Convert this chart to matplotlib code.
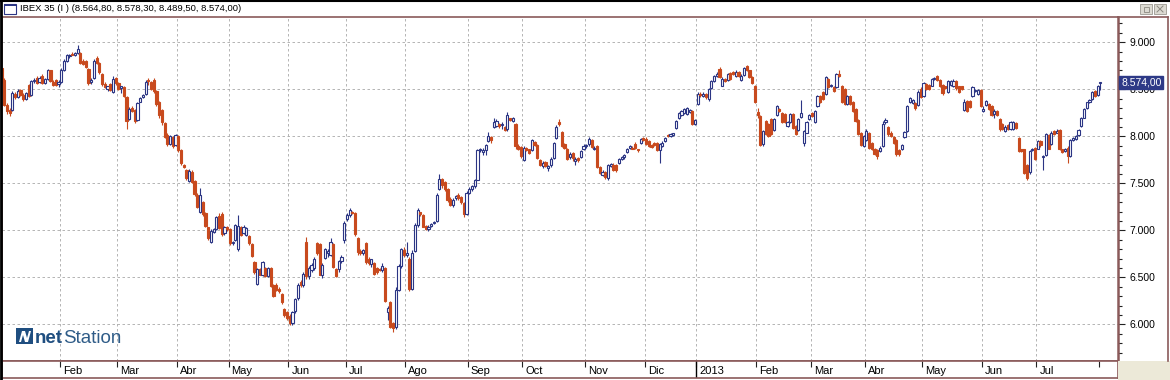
import matplotlib
matplotlib.use("Agg")
import matplotlib.pyplot as plt
import matplotlib.transforms as mtransforms
from matplotlib.patches import Rectangle, Polygon
from matplotlib.lines import Line2D
from matplotlib.ticker import MultipleLocator, FuncFormatter

plt.rcParams['font.family'] = ['Liberation Sans', 'DejaVu Sans']

# daily candles (open, high, low, close), one list per month
jan12 = [(8730, 8760, 8570, 8580), (8600, 8620, 8320, 8330), (8330, 8350, 8240, 8270), (8280, 8300, 8220, 8250),
         (8280, 8480, 8270, 8460), (8450, 8470, 8400, 8420), (8420, 8500, 8410, 8480), (8490, 8500, 8430, 8440),
         (8440, 8460, 8380, 8400), (8400, 8470, 8390, 8460), (8550, 8560, 8420, 8430), (8440, 8600, 8430, 8590),
         (8590, 8620, 8570, 8600), (8620, 8640, 8560, 8570), (8580, 8640, 8570, 8620), (8640, 8660, 8560, 8570),
         (8570, 8620, 8560, 8610), (8610, 8720, 8600, 8700), (8700, 8710, 8580, 8590), (8580, 8600, 8530, 8550),
         (8600, 8610, 8530, 8550), (8560, 8600, 8520, 8580)]
feb12 = [(8580, 8730, 8570, 8700), (8700, 8820, 8690, 8800), (8800, 8880, 8790, 8860), (8850, 8880, 8830, 8870),
         (8880, 8900, 8860, 8870), (8860, 8900, 8850, 8890), (8890, 8970, 8880, 8930), (8890, 8900, 8770, 8780),
         (8800, 8820, 8760, 8770), (8800, 8810, 8730, 8740), (8720, 8730, 8550, 8570), (8580, 8620, 8560, 8600),
         (8620, 8820, 8610, 8800), (8830, 8850, 8770, 8780), (8780, 8790, 8660, 8680), (8660, 8670, 8540, 8560),
         (8560, 8580, 8510, 8520), (8500, 8540, 8480, 8530), (8560, 8570, 8480, 8490), (8470, 8640, 8460, 8610),
         (8620, 8630, 8550, 8570)]
mar12 = [(8570, 8580, 8490, 8500), (8510, 8540, 8460, 8530), (8520, 8530, 8420, 8430), (8420, 8430, 8080, 8160),
         (8180, 8310, 8170, 8290), (8300, 8320, 8260, 8270), (8280, 8290, 8140, 8160), (8170, 8360, 8160, 8350),
         (8370, 8420, 8360, 8410), (8420, 8450, 8410, 8440), (8450, 8600, 8440, 8580), (8600, 8620, 8550, 8590),
         (8580, 8590, 8490, 8500), (8600, 8620, 8460, 8480), (8480, 8490, 8320, 8340), (8370, 8380, 8200, 8230),
         (8280, 8290, 8120, 8150), (8140, 8150, 7980, 7990), (8010, 8030, 7900, 7920), (7920, 8010, 7910, 8000),
         (7990, 8000, 7880, 7900), (7910, 8020, 7900, 8010)]
apr12 = [(8000, 8010, 7830, 7850), (7850, 7860, 7700, 7720), (7700, 7710, 7660, 7670), (7640, 7650, 7540, 7560),
         (7520, 7650, 7510, 7630), (7620, 7640, 7500, 7510), (7520, 7530, 7370, 7390), (7380, 7400, 7240, 7250),
         (7190, 7450, 7180, 7380), (7300, 7310, 7150, 7170), (7180, 7190, 7030, 7050), (7030, 7040, 6900, 6920),
         (6880, 7010, 6870, 6990), (6980, 7020, 6970, 7010), (7010, 7150, 7000, 7140), (7150, 7180, 7010, 7020),
         (7170, 7190, 6940, 6960), (6970, 7050, 6950, 7040), (7040, 7050, 6990, 7010)]
may12 = [(7010, 7020, 6840, 6860), (6860, 6890, 6840, 6880), (6900, 7070, 6890, 7060), (6800, 7160, 6780, 7050),
         (7040, 7050, 6940, 6950), (6970, 7060, 6960, 7040), (6950, 7040, 6940, 7020), (6940, 6950, 6840, 6860),
         (6850, 6860, 6720, 6730), (6660, 6670, 6540, 6560), (6430, 6600, 6420, 6590), (6590, 6600, 6520, 6530),
         (6520, 6670, 6510, 6660), (6600, 6610, 6500, 6510), (6510, 6610, 6500, 6600), (6600, 6610, 6400, 6410),
         (6420, 6430, 6290, 6300), (6420, 6440, 6350, 6370), (6380, 6400, 6330, 6350), (6320, 6330, 6220, 6240),
         (6160, 6170, 6080, 6100), (6130, 6140, 6050, 6070)]
jun12 = [(6090, 6110, 5990, 6010), (6010, 6140, 5990, 6130), (6140, 6280, 6120, 6270), (6280, 6440, 6260, 6420),
         (6450, 6470, 6400, 6420), (6420, 6560, 6400, 6540), (6880, 6930, 6480, 6510), (6510, 6620, 6480, 6600),
         (6580, 6650, 6560, 6630), (6600, 6720, 6580, 6700), (6860, 6880, 6740, 6760), (6850, 6870, 6520, 6530),
         (6520, 6650, 6490, 6630), (6710, 6810, 6700, 6800), (6760, 6800, 6720, 6780), (6740, 6920, 6730, 6880),
         (6850, 6860, 6600, 6610), (6590, 6600, 6500, 6510), (6590, 6680, 6560, 6670), (6670, 6740, 6650, 6720),
         (6900, 7100, 6870, 7080)]
jul12 = [(7120, 7180, 7100, 7160), (7160, 7240, 7140, 7220), (7200, 7210, 7170, 7180), (7180, 7190, 6940, 6960),
         (6920, 6930, 6740, 6770), (6780, 6800, 6740, 6760), (6760, 6800, 6740, 6790), (6860, 6880, 6640, 6660),
         (6700, 6720, 6630, 6650), (6640, 6700, 6610, 6690), (6650, 6660, 6520, 6540), (6600, 6610, 6540, 6560),
         (6590, 6600, 6570, 6580), (6580, 6650, 6560, 6620), (6600, 6610, 6240, 6250), (6130, 6200, 6050, 6170),
         (6240, 6250, 5960, 5970), (6010, 6030, 5920, 5960), (5970, 6400, 5950, 6370), (6370, 6640, 6350, 6620),
         (6620, 6810, 6600, 6800), (6790, 6820, 6720, 6740)]
aug12 = [(6740, 6880, 6720, 6760), (6700, 6720, 6350, 6380), (6380, 6790, 6360, 6760), (6780, 7080, 6770, 7060),
         (7060, 7240, 7040, 7220), (7190, 7200, 7150, 7170), (7160, 7170, 7030, 7040), (7050, 7060, 7000, 7010),
         (7010, 7060, 6990, 7040), (7050, 7080, 7040, 7070), (7080, 7100, 7070, 7090), (7100, 7400, 7090, 7380),
         (7440, 7600, 7430, 7550), (7550, 7560, 7450, 7480), (7510, 7520, 7420, 7440), (7440, 7450, 7300, 7320),
         (7330, 7350, 7260, 7270), (7270, 7340, 7250, 7320), (7340, 7380, 7320, 7370), (7380, 7400, 7320, 7340),
         (7350, 7360, 7280, 7300), (7290, 7300, 7140, 7170), (7170, 7420, 7160, 7400)]
sep12 = [(7400, 7460, 7390, 7440), (7440, 7480, 7420, 7470), (7470, 7550, 7450, 7530), (7540, 7870, 7530, 7850),
         (7850, 7880, 7830, 7870), (7830, 7880, 7800, 7850), (7850, 7920, 7800, 7910), (7950, 8050, 7940, 8000),
         (7990, 8000, 7930, 7960), (8100, 8200, 8090, 8150), (8110, 8180, 8100, 8160), (8130, 8140, 8090, 8110),
         (8120, 8150, 8080, 8130), (8100, 8110, 8060, 8070), (8080, 8260, 8060, 8230), (8190, 8200, 8160, 8170),
         (8160, 8210, 8150, 8200), (8130, 8140, 7870, 7900), (7900, 7920, 7850, 7860), (7890, 7900, 7770, 7790)]
oct12 = [(7750, 7900, 7740, 7880), (7880, 7890, 7840, 7850), (7860, 7870, 7810, 7820), (7850, 7970, 7840, 7960),
         (7940, 7950, 7900, 7910), (7910, 7920, 7760, 7770), (7750, 7760, 7680, 7690), (7680, 7740, 7660, 7720),
         (7730, 7740, 7670, 7680), (7660, 7690, 7630, 7680), (7700, 7780, 7670, 7760), (7770, 7940, 7760, 7930),
         (7980, 8120, 7970, 8100), (8150, 8180, 8110, 8130), (8050, 8060, 7890, 7900), (7920, 7930, 7860, 7880),
         (7870, 7880, 7750, 7760), (7780, 7830, 7760, 7810), (7820, 7830, 7740, 7770), (7740, 7780, 7700, 7760),
         (7770, 7780, 7730, 7750), (7780, 7850, 7770, 7840), (7860, 7920, 7850, 7900)]
nov12 = [(7900, 7920, 7880, 7910), (7920, 7990, 7900, 7970), (7960, 7970, 7880, 7890), (7860, 7900, 7850, 7880),
         (7900, 7910, 7660, 7670), (7670, 7680, 7600, 7610), (7590, 7640, 7580, 7620), (7620, 7630, 7550, 7570),
         (7560, 7710, 7530, 7700), (7680, 7720, 7670, 7710), (7700, 7720, 7630, 7640), (7700, 7710, 7620, 7640),
         (7720, 7770, 7710, 7760), (7760, 7790, 7750, 7780), (7780, 7810, 7760, 7800), (7830, 7880, 7820, 7870),
         (7880, 7910, 7860, 7900), (7880, 7900, 7860, 7870), (7920, 7940, 7860, 7880), (7860, 7870, 7830, 7850),
         (7930, 7980, 7920, 7970), (7980, 7990, 7950, 7960)]
dec12 = [(7970, 7990, 7910, 7920), (7950, 7960, 7890, 7900), (7910, 7920, 7880, 7890), (7930, 7940, 7900, 7910),
         (7930, 7940, 7840, 7850), (7850, 7930, 7720, 7920), (7900, 7950, 7890, 7930), (7950, 7990, 7940, 7980),
         (8010, 8020, 7990, 8000), (8000, 8030, 7990, 8020), (8010, 8040, 8000, 8030), (8090, 8170, 8080, 8160),
         (8190, 8260, 8180, 8250), (8230, 8280, 8220, 8270), (8250, 8300, 8240, 8290), (8240, 8310, 8230, 8300),
         (8260, 8290, 8250, 8280), (8270, 8280, 8120, 8130), (8130, 8180, 8120, 8170)]
jan13 = [(8340, 8470, 8330, 8450), (8450, 8470, 8420, 8440), (8430, 8470, 8420, 8450), (8450, 8460, 8400, 8420),
         (8400, 8510, 8380, 8500), (8510, 8600, 8500, 8590), (8590, 8650, 8580, 8640), (8640, 8680, 8630, 8660),
         (8720, 8740, 8620, 8630), (8540, 8630, 8530, 8610), (8610, 8620, 8580, 8590), (8600, 8670, 8590, 8660),
         (8670, 8680, 8600, 8610), (8680, 8690, 8650, 8660), (8640, 8700, 8630, 8680), (8680, 8690, 8630, 8640),
         (8600, 8660, 8590, 8640), (8650, 8740, 8640, 8730), (8750, 8760, 8690, 8700), (8700, 8710, 8620, 8630),
         (8630, 8640, 8560, 8570), (8540, 8550, 8350, 8360)]
feb13 = [(8260, 8300, 8200, 8230), (8220, 8230, 7900, 7910), (7920, 8070, 7900, 8060), (8160, 8170, 8010, 8020),
         (8130, 8140, 7990, 8000), (8180, 8190, 8010, 8020), (8070, 8190, 8060, 8180), (8230, 8330, 8220, 8320),
         (8290, 8300, 8260, 8270), (8250, 8260, 8140, 8150), (8240, 8250, 8140, 8150), (8110, 8160, 8100, 8150),
         (8150, 8250, 8140, 8240), (8240, 8250, 8080, 8090), (8110, 8120, 8010, 8020), (8070, 8190, 8060, 8180),
         (8210, 8390, 8200, 8250), (7930, 8070, 7900, 8060), (8040, 8160, 8030, 8150), (8180, 8240, 8170, 8230)]
mar13 = [(8250, 8260, 8210, 8220), (8150, 8280, 8140, 8270), (8320, 8440, 8310, 8430), (8430, 8440, 8350, 8360),
         (8470, 8480, 8390, 8400), (8450, 8640, 8440, 8630), (8610, 8620, 8510, 8520), (8530, 8560, 8520, 8550),
         (8520, 8530, 8470, 8480), (8520, 8670, 8510, 8660), (8660, 8700, 8630, 8640), (8540, 8550, 8350, 8360),
         (8500, 8510, 8330, 8340), (8340, 8440, 8330, 8430), (8430, 8440, 8330, 8340), (8360, 8380, 8260, 8270),
         (8290, 8300, 8150, 8160), (8170, 8180, 8010, 8020), (8040, 8050, 7900, 7910), (7900, 8010, 7890, 8000)]
apr13 = [(7960, 8080, 7950, 8060), (8040, 8050, 7870, 7880), (7930, 7940, 7850, 7860), (7870, 7880, 7800, 7810),
         (7850, 7860, 7760, 7790), (7840, 7900, 7830, 7880), (7900, 8160, 7890, 8130), (8150, 8190, 8130, 8170),
         (8100, 8110, 8000, 8020), (8040, 8060, 7990, 8000), (7990, 8000, 7920, 7930), (7960, 7970, 7790, 7810),
         (7850, 7860, 7790, 7810), (7860, 7920, 7850, 7910), (7990, 8060, 7980, 8050), (8060, 8330, 8050, 8320),
         (8360, 8420, 8350, 8410), (8350, 8400, 8340, 8390), (8350, 8360, 8280, 8300), (8330, 8490, 8320, 8470),
         (8500, 8520, 8410, 8420)]
may13 = [(8430, 8580, 8420, 8570), (8560, 8570, 8490, 8500), (8550, 8560, 8490, 8500), (8540, 8620, 8530, 8610),
         (8610, 8630, 8600, 8620), (8640, 8650, 8590, 8600), (8600, 8610, 8520, 8530), (8550, 8560, 8440, 8460),
         (8530, 8540, 8500, 8510), (8470, 8600, 8460, 8590), (8550, 8600, 8540, 8590), (8530, 8610, 8520, 8590),
         (8590, 8600, 8490, 8510), (8530, 8540, 8460, 8470), (8530, 8540, 8490, 8500), (8280, 8400, 8270, 8360),
         (8380, 8390, 8260, 8270), (8380, 8390, 8300, 8310), (8430, 8530, 8420, 8520), (8480, 8500, 8470, 8490),
         (8450, 8500, 8440, 8490), (8490, 8500, 8310, 8320)]
jun13 = [(8270, 8320, 8260, 8290), (8330, 8390, 8320, 8380), (8340, 8350, 8280, 8290), (8320, 8330, 8220, 8230),
         (8240, 8290, 8200, 8270), (8270, 8280, 8220, 8230), (8180, 8190, 8060, 8080), (8130, 8140, 8070, 8080),
         (8060, 8120, 8050, 8100), (8120, 8130, 8070, 8080), (8080, 8160, 8070, 8150), (8080, 8160, 8070, 8150),
         (8140, 8150, 8080, 8090), (7980, 7990, 7830, 7840), (7860, 7870, 7830, 7840), (7860, 7870, 7600, 7610),
         (7690, 7710, 7540, 7560), (7620, 7850, 7600, 7840), (7850, 7880, 7840, 7870), (7880, 7890, 7750, 7760)]
jul13 = [(7870, 7960, 7860, 7950), (7950, 7960, 7890, 7910), (7780, 7800, 7640, 7790), (7800, 8030, 7790, 8020),
         (8010, 8020, 7860, 7870), (7920, 8060, 7910, 8040), (8060, 8070, 8010, 8020), (8040, 8080, 8030, 8060),
         (8070, 8080, 7850, 7860), (7860, 7870, 7820, 7830), (7840, 7880, 7830, 7860), (7880, 7900, 7720, 7790),
         (7790, 7970, 7780, 7960), (7960, 7990, 7950, 7980), (7970, 8010, 7960, 8000), (8010, 8080, 8000, 8070),
         (8110, 8210, 8100, 8200), (8200, 8300, 8190, 8290), (8300, 8370, 8290, 8360), (8360, 8400, 8350, 8390),
         (8400, 8480, 8390, 8470), (8480, 8490, 8420, 8430), (8440, 8550, 8430, 8540)]
aug13 = [(8564.8, 8578.3, 8489.5, 8574.0)]

months = [jan12, feb12, mar12, apr12, may12, jun12, jul12, aug12, sep12, oct12, nov12, dec12,
          jan13, feb13, mar13, apr13, may13, jun13, jul13, aug13]
month_labels = ["Feb", "Mar", "Abr", "May", "Jun", "Jul", "Ago", "Sep", "Oct", "Nov", "Dic",
                "2013", "Feb", "Mar", "Abr", "May", "Jun", "Jul", ""]

candles = [c for m in months for c in m]
opens = [c[0] for c in candles]
highs = [c[1] for c in candles]
lows = [c[2] for c in candles]
closes = [c[3] for c in candles]
x = list(range(len(candles)))

# month boundaries (between last day of a month and first day of the next)
bounds = []
n = 0
for m in months[:-1]:
    n += len(m)
    bounds.append(n - 0.5)

UP = '#2b3584'
DOWN = '#c84a1e'
FRAME = '#8a5a5a'

W, H = 1170, 380
fig = plt.figure(figsize=(W / 100, H / 100), dpi=100)
fig.patch.set_facecolor('white')


def box(l, t, r, b):
    return [l / W, 1 - b / H, (r - l) / W, (b - t) / H]


def fmt_es(v, dec=0):
    s = f"{v:,.{dec}f}"
    return s.replace(",", "#").replace(".", ",").replace("#", ".")


# main price panel
ax = fig.add_axes(box(2, 17, 1118, 361))
ax.set_xlim(0.2, 410.5)
ax.set_ylim(5610, 9269)

up = [c >= o for o, c in zip(opens, closes)]
cols = [UP if u else DOWN for u in up]
ax.vlines(x, lows, highs, colors=cols, linewidth=0.8, zorder=3)
bottoms = [min(o, c) for o, c in zip(opens, closes)]
heights = [max(abs(c - o), 8) for o, c in zip(opens, closes)]
faces = ['white' if u else DOWN for u in up]
ax.bar(x, heights, bottom=bottoms, width=0.8, color=faces, edgecolor=cols,
       linewidth=0.8, zorder=4)

ax.set_xticks(bounds[:-1])
ax.tick_params(axis='x', length=0, labelbottom=False)
ax.yaxis.tick_right()
ax.yaxis.set_major_locator(MultipleLocator(500))
ax.yaxis.set_minor_locator(MultipleLocator(100))
ax.yaxis.set_major_formatter(FuncFormatter(lambda v, p: fmt_es(v)))
ax.tick_params(axis='y', which='major', direction='out', length=5, width=0.8,
               labelsize=7.5, pad=3, color='#222222')
ax.tick_params(axis='y', which='minor', direction='out', length=3, width=0.8, color='#222222')
ax.grid(True, which='major', color='#a8a8a8', linestyle=(0, (3, 3)), linewidth=0.6, zorder=0)
for s in ax.spines.values():
    s.set_color(FRAME)
    s.set_linewidth(1.2)
ax.spines['right'].set_linewidth(1.8)

# last price tag
last = closes[-1]
ax.annotate(fmt_es(last, 2), xy=(1, last), xycoords=('axes fraction', 'data'),
            xytext=(3, 0), textcoords='offset pixels', ha='left', va='center',
            color='white', fontsize=7.5, annotation_clip=False,
            bbox=dict(boxstyle='square,pad=0.15', fc='#2e3a87', ec='#2e3a87'))

# date strip
ax_s = fig.add_axes(box(2, 361, 1118, 378))
ax_s.set_xlim(ax.get_xlim())
ax_s.set_ylim(0, 1)
ax_s.set_yticks([])
ax_s.xaxis.tick_top()
ax_s.set_xticks(bounds)
ax_s.tick_params(axis='x', direction='in', length=4, width=0.8, color='#222222', labeltop=False)
for s in ax_s.spines.values():
    s.set_color(FRAME)
    s.set_linewidth(1.2)
lab_tr = mtransforms.offset_copy(ax_s.get_xaxis_transform(), fig=fig, x=3, y=0, units='dots')
for b, lab in zip(bounds, month_labels):
    if lab == "2013":
        ax_s.axvline(b, color='black', linewidth=1)
    if lab:
        ax_s.text(b, 0.4, lab, transform=lab_tr, ha='left', va='center', fontsize=8)

# window chrome
fig.add_artist(Rectangle((1118 / W, 0), (W - 1118) / W, (H - 361) / H,
                         transform=fig.transFigure, fc='#ece9d8', ec='none'))
fig.add_artist(Line2D([1168 / W, 1168 / W], [1 - 361 / H, 1 - 17 / H], color=FRAME, lw=1.2))
fig.add_artist(Line2D([1118 / W, 1168 / W], [1 - 17 / H, 1 - 17 / H], color=FRAME, lw=1.2))
fig.add_artist(Line2D([0, 1], [1 - 0.8 / H, 1 - 0.8 / H], color='black', lw=1.5))
fig.add_artist(Line2D([1 / W, 1 / W], [0, 1], color='black', lw=2))

# title bar
fig.add_artist(Rectangle((4 / W, 1 - 14 / H), 12 / W, 10 / H, transform=fig.transFigure,
                         fc='white', ec='#2b3584', lw=0.8))
fig.add_artist(Rectangle((4 / W, 1 - 6 / H), 12 / W, 2 / H, transform=fig.transFigure,
                         fc='#2b3584', ec='none'))
o, h, l, c = candles[-1]
title = f"IBEX 35 (I ) ({fmt_es(o, 2)}, {fmt_es(h, 2)}, {fmt_es(l, 2)}, {fmt_es(c, 2)})"
fig.text(20 / W, 1 - 8.5 / H, title, fontsize=6.8, va='center', ha='left')
for bx in (1140, 1154):
    fig.add_artist(Rectangle((bx / W, 1 - 14 / H), 12 / W, 10 / H, transform=fig.transFigure,
                             fc='#dcdad2', ec='#9a9890', lw=0.6))
fig.add_artist(Rectangle((1144 / W, 1 - 11.5 / H), 5 / W, 4 / H, transform=fig.transFigure,
                         fc='none', ec='#8a8880', lw=0.6))
fig.add_artist(Line2D([1157 / W, 1163 / W], [1 - 12 / H, 1 - 6 / H], color='#8a8880', lw=0.7))
fig.add_artist(Line2D([1157 / W, 1163 / W], [1 - 6 / H, 1 - 12 / H], color='#8a8880', lw=0.7))

# netStation logo
fig.add_artist(Rectangle((16 / W, 1 - 344 / H), 17 / W, 16 / H, transform=fig.transFigure,
                         fc='#1f4e80', ec='none'))
n_shape = [(19, 342), (22, 331), (25, 331), (27, 338), (29, 331), (31, 331), (28, 342), (25, 342),
           (23, 335), (21, 342)]
fig.add_artist(Polygon([(px / W, 1 - py / H) for px, py in n_shape], closed=True,
                       transform=fig.transFigure, fc='white', ec='none'))
t_net = fig.text(35 / W, 1 - 343 / H, "net", color='#1f4e80', fontsize=13.5, fontweight='bold',
                 ha='left', va='baseline')
renderer = fig.canvas.get_renderer()
net_right = t_net.get_window_extent(renderer).x1
fig.text(net_right / W, 1 - 343 / H, "Station", color='#2f5c88', fontsize=13.5,
         ha='left', va='baseline')

plt.savefig("out.png", dpi=100)
plt.close()
